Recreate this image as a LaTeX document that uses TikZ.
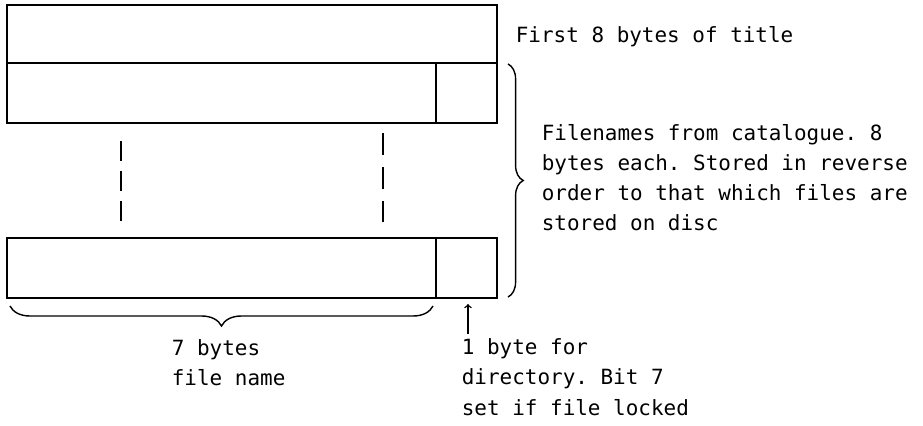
\documentclass[tikz,border=0pt]{standalone}
\usepackage{fontspec}
\setmonofont{DejaVu Sans Mono}
\usetikzlibrary{decorations.pathreplacing}

\tikzset{
    label/.style={font=\ttfamily\fontsize{14.9}{21.34}\selectfont,
        inner sep=0pt, anchor=base west, align=left},
    brc/.style={decorate, decoration={brace, amplitude=#1}}
}

\begin{document}
\begin{tikzpicture}[x=0.025cm, y=-0.025cm, line width=1.2pt]

\useasboundingbox (0,0) rectangle (923,426);

% Titre
\draw (7,5) rectangle (497,63);

% Premiere entree
\draw (7,63) rectangle (497,123);
\draw (436,63) -- (436,123);

% Lignes de suite
\draw[line width=1pt, dash pattern=on 0.5cm off 0.25cm] (121,141) -- (121,221);
\draw[line width=1pt, dash pattern=on 0.55cm off 0.3cm] (383,133) -- (383,222);

% Derniere entree
\draw (7,238) rectangle (497,298);
\draw (436,238) -- (436,298);
\coordinate (dirbyte) at (468,304);
\coordinate (arrtail) at (468,334);

% Accolades
\coordinate (rbtop) at (508,64);
\coordinate (rbbot) at (508,297);
\draw[brc=0.38cm, line width=1pt] (rbtop) -- (rbbot);

\coordinate (bbright) at (433,306);
\coordinate (bbleft) at (10,306);
\draw[brc=0.5cm, line width=1pt] (bbright) -- (bbleft);

\draw[line width=1pt, ->] (arrtail) -- (dirbyte);

% Textes (base = derniere ligne)
\node[label] (title) at (515,43) {First 8 bytes of title};
\node[label] (names) at (541,231)
{Filenames from catalogue. 8\\bytes each. Stored in reverse\\order to that which files are\\stored on disc};
\node[label] (namelen) at (171,386) {7 bytes\\file name};
\node[label] (dirlen) at (461,415)
{1 byte for\\directory. Bit 7\\set if file locked};

\end{tikzpicture}
\end{document}
